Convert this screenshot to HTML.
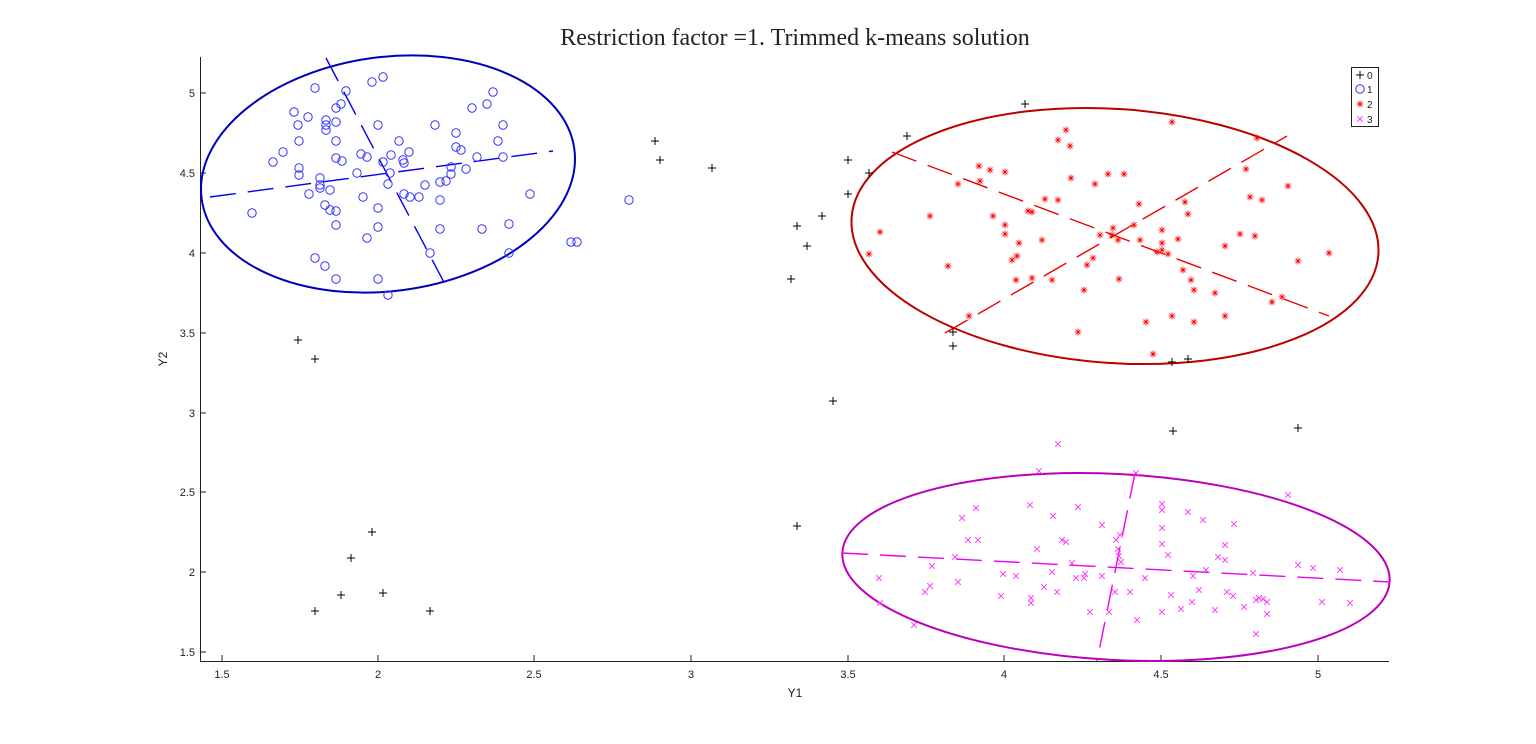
<!DOCTYPE html>
<html><head><meta charset="utf-8"><style>
html,body{margin:0;padding:0;background:#fff;}
svg{display:block;}
text{font-family:"Liberation Sans",sans-serif;}
</style></head><body>
<svg width="1536" height="744" viewBox="0 0 1536 744" xmlns="http://www.w3.org/2000/svg">
<defs>
<g id="o"><circle r="4.2" fill="none" stroke="#3333ff" stroke-width="1"/></g>
<g id="p"><path d="M-4 0H4M0 -4V4" stroke="#000" stroke-width="1"/></g>
<g id="s"><path d="M-3.5 0H3.5M0 -3.5V3.5M-2.5 -2.5L2.5 2.5M-2.5 2.5L2.5 -2.5" stroke="#ff0000" stroke-width="0.8"/></g>
<g id="x"><path d="M-2.8 -2.8L2.8 2.8M-2.8 2.8L2.8 -2.8" stroke="#ff33ff" stroke-width="1"/></g>
</defs>
<text x="795" y="45" text-anchor="middle" font-size="24" style="font-family:'Liberation Serif',serif" fill="#222">Restriction factor =1. Trimmed k-means solution</text>
<g stroke="#222" stroke-width="1" fill="none">
<path d="M200.5 57V661.5H1389"/>
<path d="M222 661V655M378 661V655M534 661V655M691 661V655M848 661V655M1004 661V655M1161 661V655M1318 661V655"/>
<path d="M200 93H206M200 173H206M200 253H206M200 333H206M200 413H206M200 492H206M200 572H206M200 652H206"/>
</g>
<g font-size="11" fill="#222" text-anchor="middle">
<text x="222" y="678">1.5</text><text x="378" y="678">2</text><text x="534" y="678">2.5</text><text x="691" y="678">3</text><text x="848" y="678">3.5</text><text x="1004" y="678">4</text><text x="1161" y="678">4.5</text><text x="1318" y="678">5</text>
</g>
<g font-size="11" fill="#222" text-anchor="end">
<text x="195" y="97">5</text><text x="195" y="177">4.5</text><text x="195" y="257">4</text><text x="195" y="337">3.5</text><text x="195" y="417">3</text><text x="195" y="496">2.5</text><text x="195" y="576">2</text><text x="195" y="656">1.5</text>
</g>
<text x="795" y="697" font-size="12" fill="#222" text-anchor="middle">Y1</text>
<text x="0" y="0" font-size="12" fill="#222" text-anchor="middle" transform="translate(167,359) rotate(-90)">Y2</text>
<ellipse cx="388" cy="174" rx="188" ry="117" transform="rotate(-7.6 388 174)" fill="none" stroke="#0000bb" stroke-width="2"/>
<path d="M210 197L553 151M326 58L447 288" stroke="#0000ee" stroke-width="1.4" stroke-dasharray="26,12" fill="none"/>
<ellipse cx="1115" cy="236" rx="264" ry="127" transform="rotate(4 1115 236)" fill="none" stroke="#bb0000" stroke-width="2"/>
<path d="M892 152L1329 316M945 333L1287 136" stroke="#ee0000" stroke-width="1.4" stroke-dasharray="26,12" fill="none"/>
<ellipse cx="1116" cy="567" rx="274" ry="93" transform="rotate(3 1116 567)" fill="none" stroke="#bb00bb" stroke-width="2"/>
<path d="M842 553L1390 582M1135 473L1097 661" stroke="#ee00ee" stroke-width="1.4" stroke-dasharray="26,12" fill="none"/>
<g>
<use href="#o" x="252" y="213"/><use href="#o" x="273" y="162"/><use href="#o" x="283" y="152"/><use href="#o" x="294" y="112"/><use href="#o" x="298" y="125"/><use href="#o" x="299" y="141"/><use href="#o" x="299" y="168"/><use href="#o" x="299" y="175"/><use href="#o" x="309" y="194"/><use href="#o" x="308" y="117"/><use href="#o" x="315" y="88"/><use href="#o" x="320" y="178"/><use href="#o" x="320" y="188"/><use href="#o" x="320" y="185"/><use href="#o" x="325" y="205"/><use href="#o" x="326" y="125"/><use href="#o" x="326" y="120"/><use href="#o" x="326" y="130"/><use href="#o" x="330" y="210"/><use href="#o" x="330" y="190"/><use href="#o" x="336" y="108"/><use href="#o" x="336" y="122"/><use href="#o" x="336" y="141"/><use href="#o" x="336" y="158"/><use href="#o" x="336" y="225"/><use href="#o" x="336" y="211"/><use href="#o" x="341" y="104"/><use href="#o" x="342" y="161"/><use href="#o" x="315" y="258"/><use href="#o" x="325" y="266"/><use href="#o" x="336" y="279"/><use href="#o" x="357" y="173"/><use href="#o" x="361" y="154"/><use href="#o" x="363" y="197"/><use href="#o" x="367" y="157"/><use href="#o" x="367" y="238"/><use href="#o" x="372" y="82"/><use href="#o" x="378" y="125"/><use href="#o" x="378" y="208"/><use href="#o" x="378" y="227"/><use href="#o" x="378" y="279"/><use href="#o" x="383" y="77"/><use href="#o" x="383" y="162"/><use href="#o" x="388" y="184"/><use href="#o" x="390" y="173"/><use href="#o" x="399" y="141"/><use href="#o" x="403" y="160"/><use href="#o" x="404" y="194"/><use href="#o" x="409" y="152"/><use href="#o" x="410" y="197"/><use href="#o" x="419" y="197"/><use href="#o" x="425" y="185"/><use href="#o" x="430" y="253"/><use href="#o" x="435" y="125"/><use href="#o" x="440" y="182"/><use href="#o" x="440" y="200"/><use href="#o" x="440" y="229"/><use href="#o" x="446" y="181"/><use href="#o" x="451" y="174"/><use href="#o" x="451" y="167"/><use href="#o" x="456" y="133"/><use href="#o" x="456" y="147"/><use href="#o" x="461" y="150"/><use href="#o" x="466" y="169"/><use href="#o" x="472" y="108"/><use href="#o" x="477" y="157"/><use href="#o" x="482" y="229"/><use href="#o" x="487" y="104"/><use href="#o" x="493" y="92"/><use href="#o" x="498" y="141"/><use href="#o" x="503" y="125"/><use href="#o" x="503" y="157"/><use href="#o" x="509" y="224"/><use href="#o" x="509" y="253"/><use href="#o" x="530" y="194"/><use href="#o" x="571" y="242"/><use href="#o" x="577" y="242"/><use href="#o" x="629" y="200"/><use href="#o" x="388" y="295"/><use href="#o" x="346" y="91"/><use href="#o" x="391" y="155"/><use href="#o" x="404" y="163"/>
</g>
<g>
<use href="#p" x="655" y="141"/><use href="#p" x="660" y="160"/><use href="#p" x="712" y="168"/><use href="#p" x="298" y="340"/><use href="#p" x="315" y="359"/><use href="#p" x="907" y="136"/><use href="#p" x="848" y="160"/><use href="#p" x="848" y="194"/><use href="#p" x="869" y="173"/><use href="#p" x="1025" y="104"/><use href="#p" x="797" y="226"/><use href="#p" x="807" y="246"/><use href="#p" x="822" y="216"/><use href="#p" x="791" y="279"/><use href="#p" x="953" y="332"/><use href="#p" x="953" y="346"/><use href="#p" x="833" y="401"/><use href="#p" x="797" y="526"/><use href="#p" x="1172" y="362"/><use href="#p" x="1188" y="359"/><use href="#p" x="1173" y="431"/><use href="#p" x="1298" y="428"/><use href="#p" x="372" y="532"/><use href="#p" x="351" y="558"/><use href="#p" x="341" y="595"/><use href="#p" x="315" y="611"/><use href="#p" x="383" y="593"/><use href="#p" x="430" y="611"/>
</g>
<g>
<use href="#s" x="869" y="254"/><use href="#s" x="880" y="232"/><use href="#s" x="930" y="216"/><use href="#s" x="958" y="184"/><use href="#s" x="948" y="266"/><use href="#s" x="969" y="316"/><use href="#s" x="979" y="166"/><use href="#s" x="980" y="181"/><use href="#s" x="990" y="170"/><use href="#s" x="993" y="216"/><use href="#s" x="1005" y="172"/><use href="#s" x="1005" y="225"/><use href="#s" x="1005" y="234"/><use href="#s" x="1012" y="260"/><use href="#s" x="1016" y="280"/><use href="#s" x="1017" y="256"/><use href="#s" x="1019" y="243"/><use href="#s" x="1028" y="211"/><use href="#s" x="1032" y="212"/><use href="#s" x="1032" y="278"/><use href="#s" x="1042" y="240"/><use href="#s" x="1045" y="199"/><use href="#s" x="1052" y="280"/><use href="#s" x="1058" y="140"/><use href="#s" x="1058" y="200"/><use href="#s" x="1066" y="130"/><use href="#s" x="1070" y="146"/><use href="#s" x="1071" y="178"/><use href="#s" x="1078" y="332"/><use href="#s" x="1084" y="290"/><use href="#s" x="1087" y="265"/><use href="#s" x="1093" y="258"/><use href="#s" x="1095" y="184"/><use href="#s" x="1108" y="174"/><use href="#s" x="1112" y="235"/><use href="#s" x="1113" y="228"/><use href="#s" x="1118" y="240"/><use href="#s" x="1119" y="279"/><use href="#s" x="1134" y="225"/><use href="#s" x="1139" y="204"/><use href="#s" x="1140" y="240"/><use href="#s" x="1146" y="322"/><use href="#s" x="1153" y="354"/><use href="#s" x="1157" y="252"/><use href="#s" x="1162" y="230"/><use href="#s" x="1162" y="243"/><use href="#s" x="1162" y="250"/><use href="#s" x="1168" y="254"/><use href="#s" x="1172" y="122"/><use href="#s" x="1172" y="316"/><use href="#s" x="1178" y="239"/><use href="#s" x="1183" y="270"/><use href="#s" x="1185" y="202"/><use href="#s" x="1188" y="214"/><use href="#s" x="1191" y="280"/><use href="#s" x="1194" y="322"/><use href="#s" x="1194" y="290"/><use href="#s" x="1215" y="293"/><use href="#s" x="1225" y="316"/><use href="#s" x="1225" y="246"/><use href="#s" x="1240" y="234"/><use href="#s" x="1246" y="169"/><use href="#s" x="1250" y="197"/><use href="#s" x="1255" y="236"/><use href="#s" x="1257" y="138"/><use href="#s" x="1262" y="200"/><use href="#s" x="1272" y="302"/><use href="#s" x="1282" y="297"/><use href="#s" x="1288" y="186"/><use href="#s" x="1298" y="261"/><use href="#s" x="1329" y="253"/><use href="#s" x="1124" y="174"/><use href="#s" x="1100" y="235"/>
</g>
<g>
<use href="#x" x="879" y="578"/><use href="#x" x="880" y="603"/><use href="#x" x="914" y="625"/><use href="#x" x="925" y="592"/><use href="#x" x="930" y="586"/><use href="#x" x="932" y="566"/><use href="#x" x="955" y="557"/><use href="#x" x="958" y="582"/><use href="#x" x="962" y="518"/><use href="#x" x="968" y="540"/><use href="#x" x="976" y="508"/><use href="#x" x="978" y="540"/><use href="#x" x="1003" y="574"/><use href="#x" x="1001" y="596"/><use href="#x" x="1016" y="576"/><use href="#x" x="1030" y="505"/><use href="#x" x="1031" y="598"/><use href="#x" x="1031" y="603"/><use href="#x" x="1037" y="549"/><use href="#x" x="1039" y="471"/><use href="#x" x="1044" y="587"/><use href="#x" x="1052" y="572"/><use href="#x" x="1053" y="516"/><use href="#x" x="1058" y="444"/><use href="#x" x="1057" y="592"/><use href="#x" x="1062" y="540"/><use href="#x" x="1066" y="542"/><use href="#x" x="1072" y="563"/><use href="#x" x="1078" y="507"/><use href="#x" x="1076" y="578"/><use href="#x" x="1084" y="578"/><use href="#x" x="1085" y="574"/><use href="#x" x="1090" y="612"/><use href="#x" x="1102" y="525"/><use href="#x" x="1102" y="576"/><use href="#x" x="1109" y="612"/><use href="#x" x="1115" y="592"/><use href="#x" x="1118" y="549"/><use href="#x" x="1119" y="556"/><use href="#x" x="1121" y="562"/><use href="#x" x="1116" y="540"/><use href="#x" x="1120" y="535"/><use href="#x" x="1130" y="592"/><use href="#x" x="1136" y="473"/><use href="#x" x="1137" y="620"/><use href="#x" x="1145" y="578"/><use href="#x" x="1162" y="504"/><use href="#x" x="1162" y="510"/><use href="#x" x="1162" y="528"/><use href="#x" x="1162" y="544"/><use href="#x" x="1162" y="612"/><use href="#x" x="1168" y="555"/><use href="#x" x="1171" y="595"/><use href="#x" x="1181" y="609"/><use href="#x" x="1188" y="512"/><use href="#x" x="1192" y="602"/><use href="#x" x="1193" y="576"/><use href="#x" x="1199" y="590"/><use href="#x" x="1203" y="520"/><use href="#x" x="1206" y="570"/><use href="#x" x="1215" y="610"/><use href="#x" x="1218" y="557"/><use href="#x" x="1225" y="545"/><use href="#x" x="1225" y="560"/><use href="#x" x="1227" y="592"/><use href="#x" x="1233" y="596"/><use href="#x" x="1234" y="524"/><use href="#x" x="1244" y="607"/><use href="#x" x="1253" y="573"/><use href="#x" x="1256" y="600"/><use href="#x" x="1256" y="634"/><use href="#x" x="1259" y="598"/><use href="#x" x="1263" y="599"/><use href="#x" x="1267" y="602"/><use href="#x" x="1267" y="614"/><use href="#x" x="1288" y="495"/><use href="#x" x="1298" y="565"/><use href="#x" x="1313" y="568"/><use href="#x" x="1322" y="602"/><use href="#x" x="1350" y="603"/><use href="#x" x="1340" y="570"/>
</g>
<rect x="1351.5" y="67.5" width="27" height="59" fill="#fff" stroke="#222" stroke-width="1"/>
<use href="#p" x="1360" y="75"/><use href="#o" x="1360" y="89"/>
<use href="#s" x="1360" y="104"/><use href="#x" x="1360" y="119"/>
<g font-size="10" fill="#222"><text x="1367" y="79">0</text><text x="1367" y="93">1</text><text x="1367" y="108">2</text><text x="1367" y="123">3</text></g>
</svg>
</body></html>
